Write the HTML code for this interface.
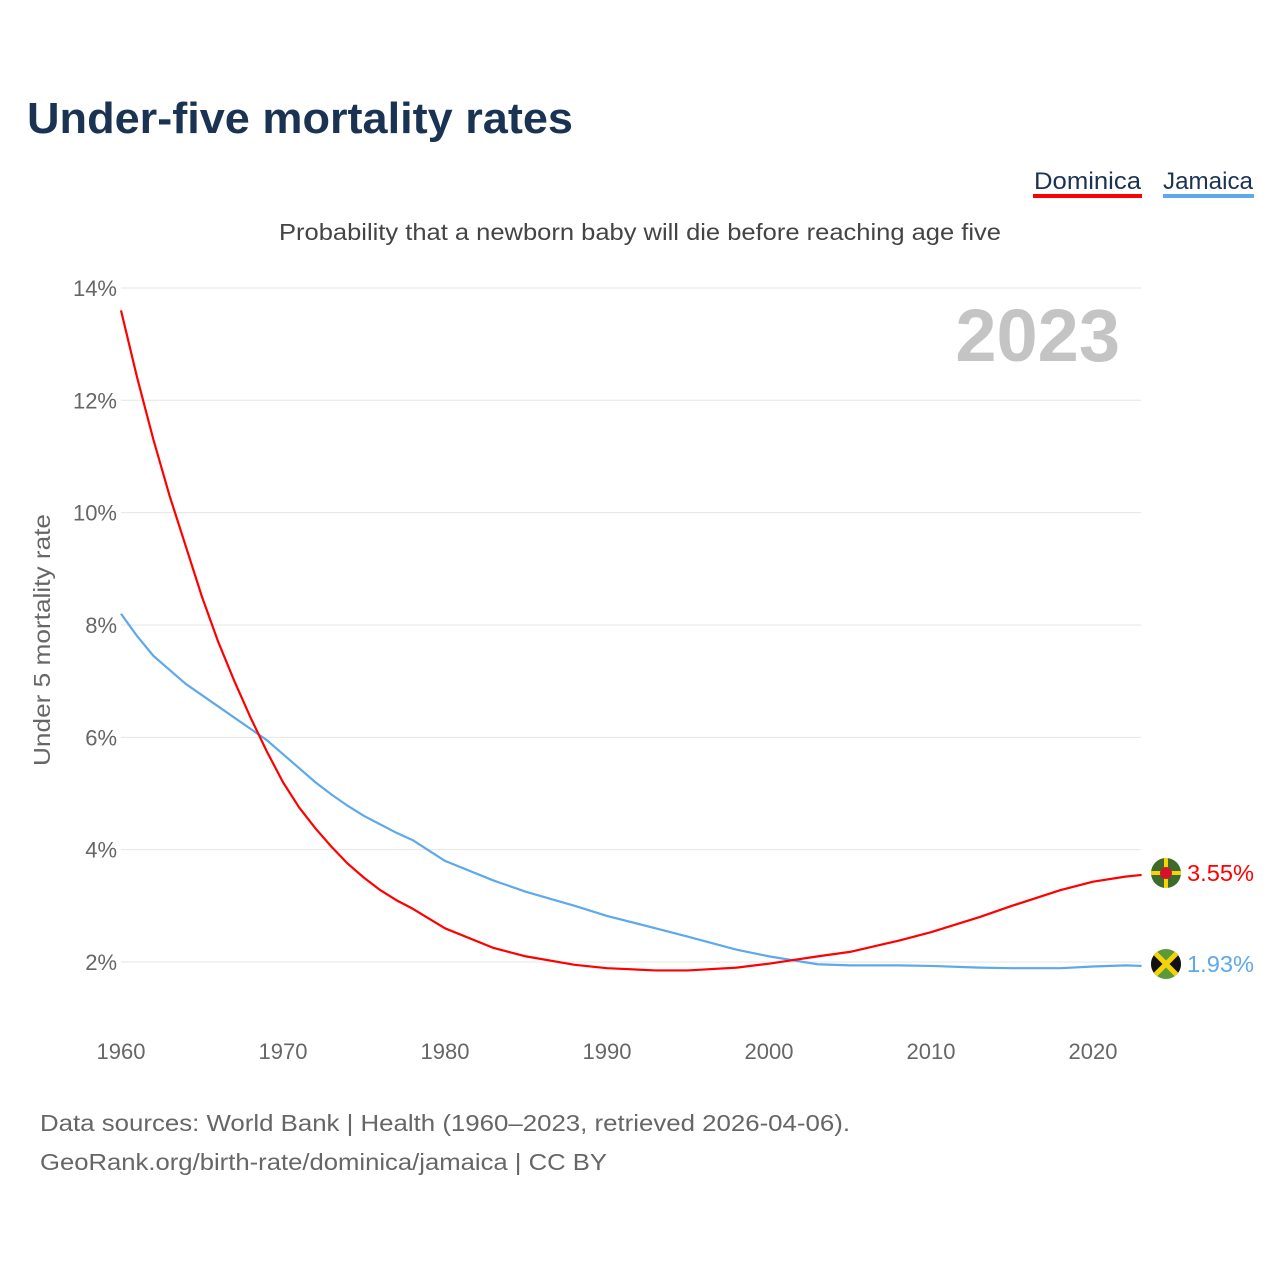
<!DOCTYPE html>
<html><head><meta charset="utf-8"><style>
body{margin:0;background:#fff;font-family:"Liberation Sans",sans-serif}
svg text{font-family:"Liberation Sans",sans-serif}
</style></head><body>
<svg width="1280" height="1280" viewBox="0 0 1280 1280">
<text x="27" y="133" font-size="44" font-weight="bold" fill="#1b3353" textLength="546" lengthAdjust="spacingAndGlyphs">Under-five mortality rates</text>
<g><text x="1034" y="189" font-size="24" fill="#1b3353" textLength="107" lengthAdjust="spacingAndGlyphs">Dominica</text><rect x="1033" y="194" width="109" height="4" fill="#ff0000"/></g>
<g><text x="1163" y="189" font-size="24" fill="#1b3353" textLength="90" lengthAdjust="spacingAndGlyphs">Jamaica</text><rect x="1163" y="194" width="91" height="4" fill="#5ea8ec"/></g>
<text x="279" y="240" font-size="23" fill="#444" textLength="722" lengthAdjust="spacingAndGlyphs">Probability that a newborn baby will die before reaching age five</text>
<text x="1120" y="361" font-size="74" font-weight="bold" fill="#c4c4c4" text-anchor="end">2023</text>
<g id="grid"></g>
<g id="xt"></g>
<text transform="translate(50,640) rotate(-90)" font-size="23" fill="#666" text-anchor="middle" textLength="252" lengthAdjust="spacingAndGlyphs">Under 5 mortality rate</text>
<g id="lines"></g>
<g><circle cx="1166" cy="873" r="15" fill="#3d6b2a"/><rect x="1151" y="871" width="30" height="4" fill="#f5d20a"/><rect x="1164" y="858" width="4" height="30" fill="#f5d20a"/><circle cx="1166" cy="873" r="6" fill="#d2142a"/></g>
<g><clipPath id="jc"><circle cx="1166" cy="964" r="15"/></clipPath><g clip-path="url(#jc)"><rect x="1151" y="949" width="30" height="30" fill="#5a9a3a"/><polygon points="1151,949 1166,964 1151,979" fill="#111"/><polygon points="1181,949 1166,964 1181,979" fill="#111"/><line x1="1151" y1="949" x2="1181" y2="979" stroke="#f5d20a" stroke-width="5"/><line x1="1181" y1="949" x2="1151" y2="979" stroke="#f5d20a" stroke-width="5"/></g></g>
<text x="1187" y="881" font-size="23" fill="#ff0000" textLength="67" lengthAdjust="spacingAndGlyphs">3.55%</text>
<text x="1187" y="972" font-size="23" fill="#5ea8ec" textLength="67" lengthAdjust="spacingAndGlyphs">1.93%</text>
<text x="40" y="1131" font-size="23" fill="#666" textLength="810" lengthAdjust="spacingAndGlyphs">Data sources: World Bank | Health (1960–2023, retrieved 2026-04-06).</text>
<text x="40" y="1170" font-size="23" fill="#666" textLength="567" lengthAdjust="spacingAndGlyphs">GeoRank.org/birth-rate/dominica/jamaica | CC BY</text>
</svg>
<script>
const years=[1960,1961,1962,1963,1964,1965,1966,1967,1968,1969,1970,1971,1972,1973,1974,1975,1976,1977,1978,1980,1983,1985,1988,1990,1993,1995,1998,2000,2003,2005,2008,2010,2013,2015,2018,2020,2022,2023];
const dominica=[13.6,12.4,11.3,10.3,9.4,8.5,7.7,7.0,6.35,5.75,5.2,4.75,4.38,4.05,3.75,3.5,3.28,3.1,2.95,2.6,2.25,2.1,1.95,1.89,1.85,1.85,1.9,1.97,2.1,2.18,2.38,2.53,2.8,3.0,3.28,3.43,3.52,3.55];
const jamaica=[8.2,7.8,7.45,7.2,6.95,6.75,6.55,6.35,6.15,5.95,5.7,5.45,5.2,4.98,4.78,4.6,4.45,4.3,4.17,3.8,3.45,3.25,3.0,2.82,2.6,2.45,2.22,2.1,1.96,1.94,1.94,1.93,1.9,1.89,1.89,1.92,1.94,1.93];
const yTicks=[2,4,6,8,10,12,14];
const xTicks=[1960,1970,1980,1990,2000,2010,2020];
const X=y=>121+(y-1960)*16.2, Y=v=>962-(v-2)*56.17;
const NS="http://www.w3.org/2000/svg";
const g=document.getElementById('grid');
yTicks.forEach(t=>{const l=document.createElementNS(NS,'line');


l.setAttribute('x1',121);l.setAttribute('x2',1141);l.setAttribute('y1',Y(t));l.setAttribute('y2',Y(t));l.setAttribute('stroke','#e6e6e6');g.appendChild(l);
const tx=document.createElementNS(NS,'text');


tx.setAttribute('x',117);tx.setAttribute('y',Y(t)+8);tx.setAttribute('text-anchor','end');tx.setAttribute('font-size','22');tx.setAttribute('fill','#666');tx.textContent=t+'%';g.appendChild(tx);});
const xt=document.getElementById('xt');
xTicks.forEach(t=>{const tx=document.createElementNS(NS,'text');


tx.setAttribute('x',X(t));tx.setAttribute('y',1059);tx.setAttribute('text-anchor','middle');tx.setAttribute('font-size','22');tx.setAttribute('fill','#666');tx.textContent=t;xt.appendChild(tx);});
const L=document.getElementById('lines');
function line(vals,c,n){const p=document.createElementNS(NS,'path');


p.setAttribute('d',vals.map((v,i)=>(i?'L':'M')+X(years[i])+','+Y(v)).join(''));p.setAttribute('fill','none');p.setAttribute('stroke',c);p.setAttribute('stroke-width','2.2');p.setAttribute('stroke-linejoin','round');L.appendChild(p);}
line(jamaica,'#5ea8ec','jamaica-line');
line(dominica,'#ff0000','dominica-line');
</script>
</body></html>
